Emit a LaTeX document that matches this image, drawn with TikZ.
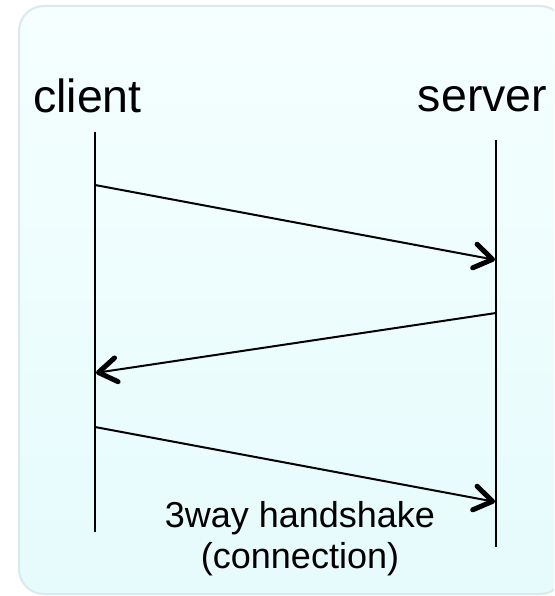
\documentclass[tikz,border=0pt]{standalone}
\usepackage{fontspec}
\setmainfont{Liberation Sans}
\usetikzlibrary{arrows.meta}
\definecolor{bgtop}{HTML}{F5FFFF}
\definecolor{bgbot}{HTML}{E6FBFC}
\definecolor{bgborder}{HTML}{D9E9ED}
\tikzset{
  panel/.style={draw=bgborder, line width=2pt, rounded corners=25pt, top color=bgtop, bottom color=bgbot},
  actor/.style={inner sep=0pt, anchor=base, font=\fontsize{46.5}{54}\selectfont},
  caption/.style={inner sep=0pt, align=center, font=\fontsize{36}{41}\selectfont},
  lifeline/.style={draw=black, line width=2pt},
  msg/.style={draw=black, line width=2pt, -{Straight Barb[length=18pt,width=24pt,line width=5pt,round]}, shorten >=1pt},
}
\begin{document}
\begin{tikzpicture}[x=1pt,y=-1pt]
\useasboundingbox (0,0) rectangle (554,596);
\clip (0,0) rectangle (554,596);
\path[panel] (19,6) rectangle (565,594);
\node[actor] (client) at (87.5,113) {client};
\node[actor] (server) at (482.5,112) {server};
\coordinate (ctop) at (95,132);
\coordinate (cbot) at (95,532);
\coordinate (stop) at (496,140);
\coordinate (sbot) at (496,547);
\draw[lifeline] (ctop) -- (cbot);
\draw[lifeline] (stop) -- (sbot);
\coordinate (c1) at (95,185);
\coordinate (s1) at (496,260);
\coordinate (s2) at (496,313);
\coordinate (c2) at (95,373);
\coordinate (c3) at (95,427);
\coordinate (s3) at (496,502);
\draw[msg] (c1) -- (s1);
\draw[msg] (s2) -- (c2);
\draw[msg] (c3) -- (s3);
\node[caption, anchor=base] (cap) at (300,568) {3way handshake\\(connection)};
\end{tikzpicture}
\end{document}
